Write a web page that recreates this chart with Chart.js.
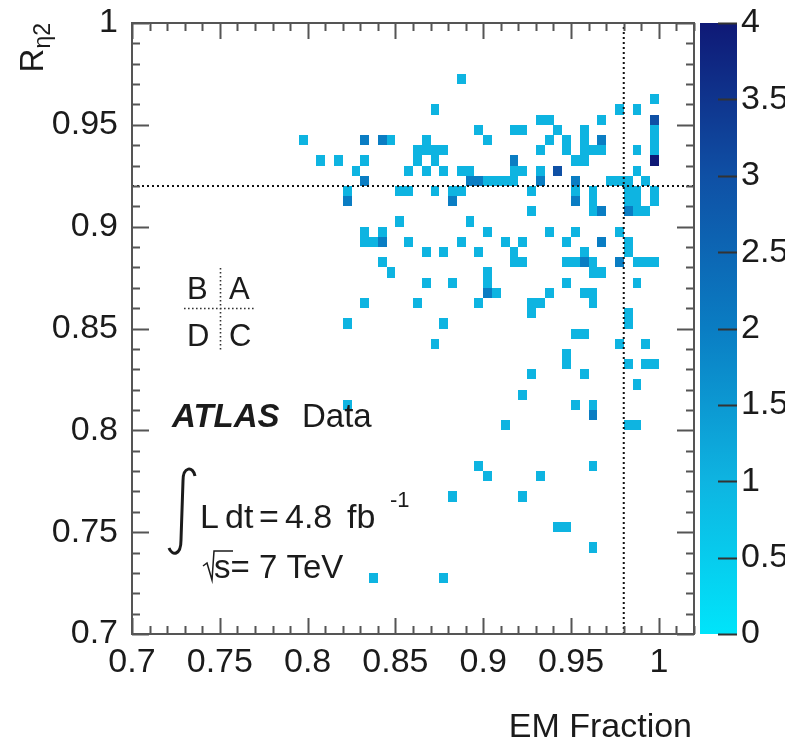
<!DOCTYPE html>
<html>
<head>
<meta charset="utf-8">
<script src="https://cdn.jsdelivr.net/npm/chart.js@4/dist/chart.umd.min.js"></script>
<style>
  html, body { margin: 0; padding: 0; background: #fff; }
  canvas { display: block; }
</style>
</head>
<body>
<canvas id="emChart" width="785" height="740"></canvas>
<script>
// bin width in both EM fraction and R_eta2
const binW = 0.005;

// lower bin edges, one line per R_eta2 row (top to bottom)
const emFrac = [
  0.885,
  0.995,
  0.87, 0.975, 0.985,
  0.93, 0.935, 0.965, 0.995,
  0.895, 0.915, 0.92, 0.94, 0.955, 0.995,
  0.795, 0.83, 0.84, 0.845, 0.865, 0.9, 0.935, 0.945, 0.955, 0.965, 0.995,
  0.86, 0.865, 0.87, 0.875, 0.93, 0.945, 0.955, 0.96, 0.965, 0.985, 0.995,
  0.805, 0.815, 0.83, 0.86, 0.87, 0.915, 0.95, 0.955, 0.995,
  0.825, 0.855, 0.865, 0.875, 0.885, 0.89, 0.915, 0.92, 0.93, 0.94, 0.985,
  0.83, 0.89, 0.895, 0.9, 0.905, 0.91, 0.915, 0.93, 0.95, 0.97, 0.975, 0.98, 0.99,
  0.82, 0.85, 0.855, 0.87, 0.88, 0.885, 0.925, 0.95, 0.96, 0.98, 0.985, 0.995,
  0.82, 0.88, 0.95, 0.96, 0.98, 0.985, 0.995,
  0.925, 0.96, 0.965, 0.98, 0.985, 0.99,
  0.85, 0.89,
  0.83, 0.84, 0.9, 0.935, 0.95, 0.975,
  0.83, 0.835, 0.84, 0.855, 0.885, 0.91, 0.92, 0.945, 0.965, 0.98,
  0.865, 0.875, 0.895, 0.915, 0.955, 0.98,
  0.84, 0.915, 0.92, 0.945, 0.95, 0.955, 0.96, 0.975, 0.985, 0.99, 0.995,
  0.845, 0.9, 0.96, 0.965,
  0.865, 0.88, 0.9, 0.945, 0.985,
  0.9, 0.905, 0.935, 0.955, 0.96,
  0.83, 0.86, 0.895, 0.925, 0.93, 0.96,
  0.925, 0.98,
  0.82, 0.875, 0.98,
  0.95, 0.955,
  0.87, 0.975, 0.99,
  0.945,
  0.945, 0.98, 0.99, 0.995,
  0.925, 0.955,
  0.985,
  0.92,
  0.82, 0.95, 0.96,
  0.96,
  0.91, 0.98, 0.985,
  0.895, 0.96,
  0.9, 0.93,
  0.88, 0.92,
  0.94, 0.945,
  0.96,
  0.835, 0.875
];

const rEta2 = [
  0.97,
  0.96,
  0.955, 0.955, 0.955,
  0.95, 0.95, 0.95, 0.95,
  0.945, 0.945, 0.945, 0.945, 0.945, 0.945,
  0.94, 0.94, 0.94, 0.94, 0.94, 0.94, 0.94, 0.94, 0.94, 0.94, 0.94,
  0.935, 0.935, 0.935, 0.935, 0.935, 0.935, 0.935, 0.935, 0.935, 0.935, 0.935,
  0.93, 0.93, 0.93, 0.93, 0.93, 0.93, 0.93, 0.93, 0.93,
  0.925, 0.925, 0.925, 0.925, 0.925, 0.925, 0.925, 0.925, 0.925, 0.925, 0.925,
  0.92, 0.92, 0.92, 0.92, 0.92, 0.92, 0.92, 0.92, 0.92, 0.92, 0.92, 0.92, 0.92,
  0.915, 0.915, 0.915, 0.915, 0.915, 0.915, 0.915, 0.915, 0.915, 0.915, 0.915, 0.915,
  0.91, 0.91, 0.91, 0.91, 0.91, 0.91, 0.91,
  0.905, 0.905, 0.905, 0.905, 0.905, 0.905,
  0.9, 0.9,
  0.895, 0.895, 0.895, 0.895, 0.895, 0.895,
  0.89, 0.89, 0.89, 0.89, 0.89, 0.89, 0.89, 0.89, 0.89, 0.89,
  0.885, 0.885, 0.885, 0.885, 0.885, 0.885,
  0.88, 0.88, 0.88, 0.88, 0.88, 0.88, 0.88, 0.88, 0.88, 0.88, 0.88,
  0.875, 0.875, 0.875, 0.875,
  0.87, 0.87, 0.87, 0.87, 0.87,
  0.865, 0.865, 0.865, 0.865, 0.865,
  0.86, 0.86, 0.86, 0.86, 0.86, 0.86,
  0.855, 0.855,
  0.85, 0.85, 0.85,
  0.845, 0.845,
  0.84, 0.84, 0.84,
  0.835,
  0.83, 0.83, 0.83, 0.83,
  0.825, 0.825,
  0.82,
  0.815,
  0.81, 0.81, 0.81,
  0.805,
  0.8, 0.8, 0.8,
  0.78, 0.78,
  0.775, 0.775,
  0.765, 0.765,
  0.75, 0.75,
  0.74,
  0.725, 0.725
];

const counts = [
  1,
  1,
  1, 1, 1,
  1, 1, 1, 3,
  1, 1, 1, 1, 1, 1,
  1, 2, 2, 1, 1, 1, 1, 1, 1, 2, 1,
  1, 1, 1, 1, 1, 1, 1, 1, 1, 1, 1,
  1, 1, 1, 1, 1, 2, 1, 1, 4,
  1, 1, 1, 1, 1, 1, 1, 1, 1, 3, 1,
  2, 2, 2, 1, 1, 1, 1, 2, 2, 1, 1, 1, 1,
  1, 1, 1, 1, 1, 1, 1, 1, 1, 1, 1, 1,
  2, 2, 2, 1, 1, 1, 1,
  1, 1, 2, 2, 1, 1,
  1, 1,
  1, 1, 1, 1, 1, 1,
  1, 1, 2, 1, 1, 1, 1, 1, 2, 1,
  1, 1, 1, 1, 1, 1,
  1, 1, 1, 1, 1, 2, 1, 2, 1, 1, 1,
  1, 1, 1, 1,
  1, 1, 1, 1, 1,
  2, 1, 1, 1, 1,
  1, 1, 1, 1, 1, 1,
  1, 1,
  1, 1, 1,
  1, 1,
  1, 1, 1,
  1,
  1, 1, 1, 1,
  1, 1,
  1,
  1,
  1, 1, 1,
  2,
  1, 1, 1,
  1, 1,
  1, 1,
  1, 1,
  1, 1,
  1,
  1, 1
];

const xTicks = [0.7, 0.75, 0.8, 0.85, 0.9, 0.95, 1];
const yTicks = [0.7, 0.75, 0.8, 0.85, 0.9, 0.95, 1];
const zTicks = [0, 0.5, 1, 1.5, 2, 2.5, 3, 3.5, 4];

// ABCD region boundaries
const cutEM = 0.98;
const cutR = 0.92;

const sans = "'Liberation Sans', Arial, Helvetica, sans-serif";
const ink = '#1b1b1b';
const frameCol = '#555';

// colour palette (value -> rgb)
const palStops = [
  [0, [0, 228, 250]],
  [1, [14, 180, 225]],
  [2, [10, 125, 195]],
  [3, [15, 80, 165]],
  [4, [15, 25, 118]]
];

function palette(v) {
  for (let i = 1; i < palStops.length; i++) {
    if (v <= palStops[i][0]) {
      const [v0, c0] = palStops[i - 1];
      const [v1, c1] = palStops[i];
      const f = (v - v0) / (v1 - v0);
      const c = c0.map((a, k) => Math.round(a + (c1[k] - a) * f));
      return `rgb(${c[0]},${c[1]},${c[2]})`;
    }
  }
  const c = palStops[palStops.length - 1][1];
  return `rgb(${c[0]},${c[1]},${c[2]})`;
}

// draw the 2D histogram cells from the scales
const heatmapPlugin = {
  id: 'heatmap',
  beforeDatasetsDraw(chart) {
    const {ctx, scales: {x, y}} = chart;
    ctx.save();
    emFrac.forEach((ex, k) => {
      const l = Math.round(x.getPixelForValue(ex));
      const r = Math.round(x.getPixelForValue(ex + binW));
      const b = Math.round(y.getPixelForValue(rEta2[k]));
      const t = Math.round(y.getPixelForValue(rEta2[k] + binW));
      ctx.fillStyle = palette(counts[k]);
      ctx.fillRect(l, t, r - l, b - t);
    });
    ctx.restore();
  }
};

// ROOT style frame with inward ticks on all four sides
const framePlugin = {
  id: 'frame',
  afterDatasetsDraw(chart) {
    const {ctx, chartArea: a, scales: {x, y}} = chart;
    ctx.save();
    ctx.strokeStyle = frameCol;
    ctx.lineWidth = 2;
    ctx.strokeRect(a.left, a.top, a.right - a.left, a.bottom - a.top);
    ctx.beginPath();
    for (let k = 70; k <= 102; k++) {
      const px = Math.round(x.getPixelForValue(k / 100)) + 0.5;
      const len = k % 5 === 0 ? 16 : 8;
      ctx.moveTo(px, a.bottom); ctx.lineTo(px, a.bottom - len);
      ctx.moveTo(px, a.top); ctx.lineTo(px, a.top + len);
    }
    for (let k = 70; k <= 100; k++) {
      const py = Math.round(y.getPixelForValue(k / 100)) + 0.5;
      const len = k % 5 === 0 ? 17 : 8;
      ctx.moveTo(a.left, py); ctx.lineTo(a.left + len, py);
      ctx.moveTo(a.right, py); ctx.lineTo(a.right - len, py);
    }
    ctx.stroke();
    ctx.restore();
  }
};

// colour scale bar next to the frame
const colorbarPlugin = {
  id: 'colorbar',
  afterDraw(chart) {
    const {ctx, chartArea: a, scales: {z}} = chart;
    const left = a.right + 6, right = a.right + 43;
    const top = z.getPixelForValue(4), bottom = z.getPixelForValue(0);
    ctx.save();
    const grad = ctx.createLinearGradient(0, bottom, 0, top);
    palStops.forEach(([v, c]) => grad.addColorStop(v / 4, `rgb(${c[0]},${c[1]},${c[2]})`));
    ctx.fillStyle = grad;
    ctx.fillRect(left, top, right - left, bottom - top);
    ctx.strokeStyle = '#333';
    ctx.lineWidth = 2;
    ctx.beginPath();
    zTicks.forEach(v => {
      const py = Math.round(z.getPixelForValue(v)) + 0.5;
      ctx.moveTo(right, py);
      ctx.lineTo(right - 19, py);
    });
    ctx.stroke();
    ctx.restore();
  }
};

// ATLAS labels, ABCD key and axis titles
const labelsPlugin = {
  id: 'labels',
  afterDraw(chart) {
    const {ctx, chartArea: a} = chart;
    ctx.save();
    ctx.fillStyle = ink;
    ctx.strokeStyle = ink;
    ctx.textBaseline = 'alphabetic';
    ctx.textAlign = 'left';

    // ABCD key
    ctx.font = `31px ${sans}`;
    ctx.fillText('B', 187, 299);
    ctx.fillText('A', 229, 299);
    ctx.fillText('D', 187, 346);
    ctx.fillText('C', 229, 346);
    ctx.save();
    ctx.strokeStyle = '#333';
    ctx.lineWidth = 1.6;
    ctx.setLineDash([1.6, 2.4]);
    ctx.beginPath();
    ctx.moveTo(220.5, 268); ctx.lineTo(220.5, 352);
    ctx.moveTo(184, 308.5); ctx.lineTo(256, 308.5);
    ctx.stroke();
    ctx.restore();

    // ATLAS Data
    ctx.font = `italic bold 33px ${sans}`;
    ctx.fillText('ATLAS', 172, 427);
    ctx.font = `33px ${sans}`;
    ctx.fillText('Data', 302, 427);

    // integral sign
    ctx.lineWidth = 3;
    ctx.beginPath();
    ctx.moveTo(195, 476);
    ctx.bezierCurveTo(193, 466, 183, 466, 183, 481);
    ctx.lineTo(181, 540);
    ctx.bezierCurveTo(181, 556, 172, 556, 169, 548);
    ctx.stroke();

    ctx.font = `34px ${sans}`;
    [['L', 200], ['dt', 225], ['=', 259], ['4.8', 285], ['fb', 347]].forEach(([s, px]) => {
      ctx.fillText(s, px, 528);
    });
    ctx.font = `22px ${sans}`;
    ctx.fillText('-1', 390, 507);

    // sqrt(s)
    ctx.lineWidth = 1.5;
    ctx.beginPath();
    ctx.moveTo(203, 566);
    ctx.lineTo(207, 563);
    ctx.lineTo(212, 580);
    ctx.lineTo(214, 551);
    ctx.lineTo(233, 551);
    ctx.stroke();
    ctx.font = `33px ${sans}`;
    ctx.fillText('s= 7 TeV', 214, 578);

    // x title, right aligned to the axis end
    ctx.font = `34px ${sans}`;
    ctx.textAlign = 'right';
    ctx.fillText('EM Fraction', a.right - 2, 737);

    // y title R_eta2, rotated, aligned to the axis top
    ctx.translate(43, a.top);
    ctx.rotate(-Math.PI / 2);
    ctx.textAlign = 'left';
    ctx.font = `33px ${sans}`;
    const wR = ctx.measureText('R').width;
    ctx.font = `23px ${sans}`;
    const wSub = ctx.measureText('\u03b72').width;
    ctx.font = `33px ${sans}`;
    ctx.fillText('R', -(wR + wSub), 0);
    ctx.font = `23px ${sans}`;
    ctx.fillText('\u03b72', -wSub, 7);
    ctx.restore();
  }
};

const tickFont = {family: sans, size: 34};

// keep the plot frame where the layout padding puts it
function noLabelPadding(s) {
  s.paddingTop = 0;
  s.paddingBottom = 0;
  s.paddingLeft = 0;
  s.paddingRight = 0;
}

new Chart(document.getElementById('emChart'), {
  type: 'scatter',
  data: {
    datasets: [
      {
        data: [{x: 0.7, y: cutR}, {x: 1.02, y: cutR}],
        showLine: true,
        borderColor: '#111',
        borderWidth: 2,
        borderDash: [2, 3],
        pointRadius: 0
      },
      {
        data: [{x: cutEM, y: 0.7}, {x: cutEM, y: 1}],
        showLine: true,
        borderColor: '#111',
        borderWidth: 2,
        borderDash: [2, 3],
        pointRadius: 0
      }
    ]
  },
  options: {
    responsive: false,
    animation: false,
    events: [],
    layout: {padding: {top: 23, left: 0, right: 0, bottom: 0}},
    plugins: {
      legend: {display: false},
      tooltip: {enabled: false}
    },
    scales: {
      x: {
        type: 'linear',
        min: 0.7,
        max: 1.02,
        afterBuildTicks: s => { s.ticks = xTicks.map(v => ({value: v})); },
        afterFit: s => { s.height = 106; noLabelPadding(s); },
        grid: {display: false, drawTicks: false},
        border: {display: false},
        ticks: {
          font: tickFont,
          color: ink,
          padding: 8,
          autoSkip: false,
          maxRotation: 0,
          callback: v => String(v)
        }
      },
      y: {
        type: 'linear',
        min: 0.7,
        max: 1,
        afterBuildTicks: s => { s.ticks = yTicks.map(v => ({value: v})); },
        afterFit: s => { s.width = 132; noLabelPadding(s); },
        grid: {display: false, drawTicks: false},
        border: {display: false},
        ticks: {
          font: tickFont,
          color: ink,
          padding: 14,
          autoSkip: false,
          callback: v => String(v)
        }
      },
      z: {
        type: 'linear',
        axis: 'y',
        position: 'right',
        min: 0,
        max: 4,
        afterBuildTicks: s => { s.ticks = zTicks.map(v => ({value: v})); },
        afterFit: s => { s.width = 91; noLabelPadding(s); },
        grid: {display: false, drawTicks: false},
        border: {display: false},
        ticks: {
          font: tickFont,
          color: ink,
          padding: 47,
          autoSkip: false,
          callback: v => String(v)
        }
      }
    }
  },
  plugins: [heatmapPlugin, framePlugin, colorbarPlugin, labelsPlugin]
});
</script>
</body>
</html>
